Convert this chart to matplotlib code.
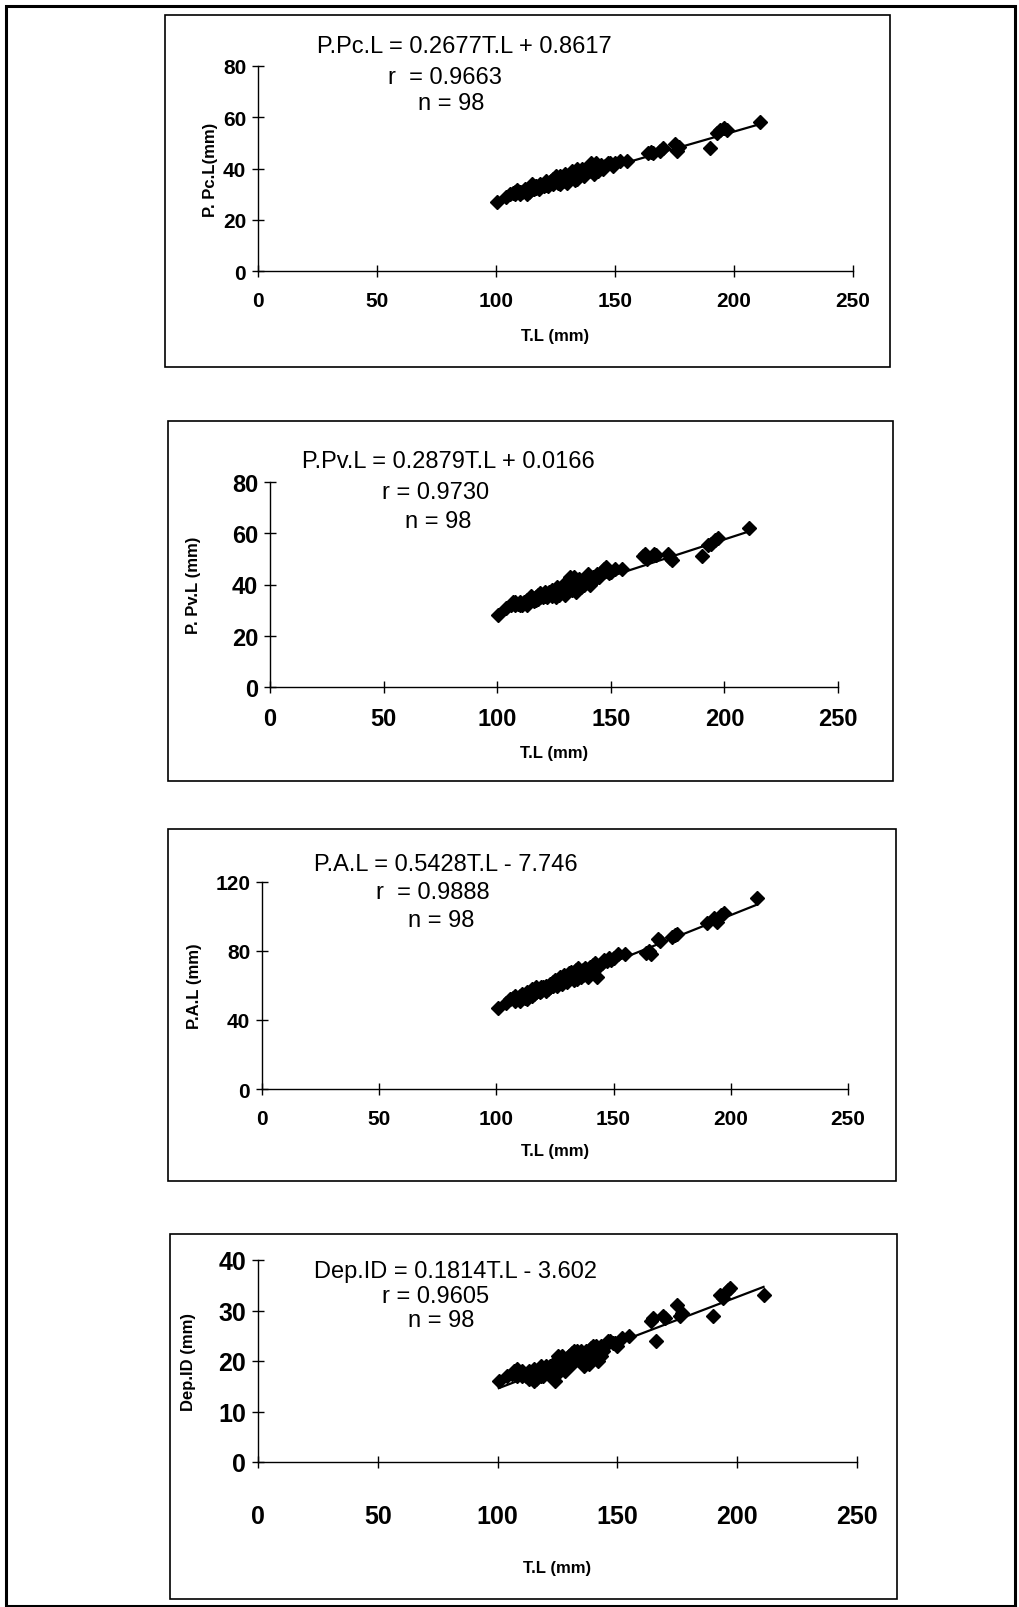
import matplotlib
matplotlib.use('Agg')
import matplotlib.pyplot as plt
from matplotlib.patches import Rectangle
import numpy as np

W, H = 1020, 1608

# total length of the fish (same 98 fish in every panel)
tl = [100.5, 104, 106, 107, 108, 108, 109, 110, 110, 111, 112, 113, 113, 114, 115, 115,
      116, 116, 117, 117, 118, 118, 118.5, 119, 119, 120, 120, 121, 121, 122, 122, 123, 123,
      124, 124, 125, 125, 126, 126, 126.5, 127, 127, 128, 128, 129, 129, 130, 130, 131, 131,
      132, 132, 133, 133, 134, 134, 134.5, 135, 135, 136, 136, 137, 137, 138, 138, 139, 139,
      140, 140, 141, 141, 142, 142, 143, 143, 144, 145, 146, 147, 148, 149, 150, 152, 155,
      164, 165, 166, 169, 170, 175, 176, 177, 190, 193, 194, 196, 197, 211]

ppcl = [27, 29, 30, 30.5, 31, 30, 31.5, 31, 30, 31, 32, 30, 31.5, 31, 34, 32,
        33, 32, 32.5, 33, 33, 32, 34, 33, 33.5, 33, 34, 33.5, 35, 34, 33, 34.5, 35,
        34, 36, 35, 37, 34.5, 35.5, 36, 34, 37, 36, 35, 38, 36, 37, 34.5, 38, 36,
        39, 37, 38, 35.5, 40, 36, 38, 39, 37, 40, 38, 39, 37, 40, 38.5, 41, 39,
        40, 42, 41, 38, 42, 40, 41, 39, 41.5, 40, 41, 42, 42, 41, 42, 43, 43,
        46, 46.5, 46, 47, 48, 49.5, 47, 48.5, 48, 54, 55, 56, 55, 58]

ppvl = [28, 31, 32, 33, 32, 33, 32.5, 32, 33, 32, 33, 32, 34, 33, 35.5, 34,
        34, 33.5, 35, 34, 36, 34.5, 35, 35, 36.5, 35, 36, 35.5, 37, 36, 35, 36.5, 37,
        35.5, 38, 36, 37.5, 35, 38, 39, 37, 36, 38, 37, 40, 38, 39, 36, 41, 38,
        43, 40, 42, 38, 43, 39, 37, 41, 39.5, 42, 40, 40.5, 39, 42, 40, 43, 41,
        42, 44, 42.5, 40, 43, 41.5, 43, 42, 44, 43, 45, 46, 47, 44.5, 45, 46, 46,
        51, 52, 50, 52, 51.5, 52, 50.5, 49.5, 51, 55.5, 56, 57.5, 58, 62]

pal = [47, 50, 52, 53, 51, 54, 52, 54, 51, 55, 53, 56, 52, 55, 58, 54,
       57, 55, 59, 56, 57, 58, 56, 59, 57, 58, 59, 57, 60, 59, 58, 61, 59,
       60, 62, 61, 63, 60, 62, 64, 62, 65, 63, 61, 66, 64, 65, 62, 67, 64,
       66, 68, 65, 63, 69, 66, 64, 70, 67, 68, 65, 69, 66, 67, 70, 68, 65,
       71, 69, 72, 68, 73, 70, 71, 65, 72, 73, 75, 74, 76, 75, 76, 78, 78,
       79, 80, 78, 87, 86, 88, 89, 90, 96, 99, 97, 101, 102, 111]

depid = [16, 17, 17.5, 18, 17, 18.5, 17.5, 17, 18, 17.5, 17, 16.5, 18, 17, 16, 18.5,
         17, 16.5, 18, 17.5, 19, 17, 18, 18.5, 17, 19, 18, 18.5, 17.5, 19, 18, 17, 19.5,
         16, 18.5, 21, 19, 20, 18, 19.5, 21, 19, 20, 18, 20.5, 19, 21, 20, 21.5, 19.5,
         22, 20, 21, 22, 20.5, 21.5, 20, 22, 21, 19, 21.5, 20, 22, 21, 19.5, 22.5, 21,
         23, 22, 23, 21.5, 22.5, 20, 23, 21, 22, 23, 24, 24, 23.5, 23.5, 23, 24.5, 25,
         28, 28.5, 24, 29, 28.5, 31, 29, 29.5, 29, 33, 32.5, 34, 34.5, 33]

ylabels = ['P. Pc.L(mm)', 'P. Pv.L (mm)', 'P.A.L (mm)', 'Dep.ID (mm)']
slopes = [0.2677, 0.2879, 0.5428, 0.1814]
intercepts = [0.8617, 0.0166, -7.746, -3.602]
eq_text = ['P.Pc.L = 0.2677T.L + 0.8617', 'P.Pv.L = 0.2879T.L + 0.0166',
           'P.A.L = 0.5428T.L - 7.746', 'Dep.ID = 0.1814T.L - 3.602']
r_text = ['r  = 0.9663', 'r = 0.9730', 'r  = 0.9888', 'r = 0.9605']
n_text = ['n = 98'] * 4
yticks = [[0, 20, 40, 60, 80], [0, 20, 40, 60, 80], [0, 40, 80, 120], [0, 10, 20, 30, 40]]
ydata = [ppcl, ppvl, pal, depid]

# layout in pixels (of the 1020x1608 page)
boxes = [(165, 16, 890, 368), (168, 422, 893, 782), (168, 830, 896, 1182), (170, 1235, 897, 1600)]
axpix = [(258, 67, 853, 272), (270, 483, 838, 688), (262, 883, 848, 1090), (258, 1261, 857, 1463)]
eq_pos = [(464, 47), (448, 462), (446, 865), (456, 1272)]
r_pos = [(445, 78), (436, 493), (433, 893), (436, 1297)]
n_pos = [(451, 104), (438, 522), (441, 921), (441, 1321)]
ylab_x = [218, 201, 202, 196]
xlab_y = [329, 746, 1144, 1561]
tick_size = [15, 17, 15, 18]
xpad = [10, 10, 10, 26]

plt.rcParams['font.family'] = ['Liberation Sans', 'DejaVu Sans']


def fx(x):
    return x / W


def fy(y):
    return 1 - y / H


fig = plt.figure(figsize=(W / 100, H / 100), dpi=100)
fig.patch.set_facecolor('white')

# outer frame
fig.add_artist(Rectangle((fx(6), fy(1607)), fx(1015) - fx(6), fy(7) - fy(1607),
                         transform=fig.transFigure, fill=False, lw=2.2, ec='black'))

for i in range(4):
    bx0, by0, bx1, by1 = boxes[i]
    fig.add_artist(Rectangle((fx(bx0), fy(by1)), fx(bx1) - fx(bx0), fy(by0) - fy(by1),
                             transform=fig.transFigure, fill=False, lw=1.2, ec='black'))

    x0, yt, x1, yb = axpix[i]
    ax = fig.add_axes([fx(x0), fy(yb), fx(x1) - fx(x0), fy(yt) - fy(yb)])
    ax.set_facecolor('none')

    x = np.array(tl)
    ax.plot(x, ydata[i], 'D', color='black', ms=7, clip_on=False)
    xl = np.array([min(tl), max(tl)])
    ax.plot(xl, slopes[i] * xl + intercepts[i], color='black', lw=1.6)

    ax.set_xlim(0, 250)
    ax.set_ylim(0, yticks[i][-1])
    ax.set_xticks([0, 50, 100, 150, 200, 250])
    ax.set_yticks(yticks[i])
    for s in ['top', 'right']:
        ax.spines[s].set_visible(False)
    for s in ['left', 'bottom']:
        ax.spines[s].set_linewidth(1.0)
    ax.tick_params(direction='inout', length=9, width=1.0, labelsize=tick_size[i])
    ax.tick_params(axis='x', pad=xpad[i])
    ax.tick_params(axis='y', pad=4)
    for lab in ax.get_xticklabels() + ax.get_yticklabels():
        lab.set_fontweight('bold')

    ax.set_ylabel(ylabels[i], fontsize=12, fontweight='bold')
    ax.yaxis.set_label_coords((ylab_x[i] - x0) / (x1 - x0), 0.5)
    ax.set_xlabel('T.L (mm)', fontsize=12, fontweight='bold')
    ax.xaxis.set_label_coords(0.5, (yb - xlab_y[i]) / (yb - yt))

    for txt, pos in [(eq_text[i], eq_pos[i]), (r_text[i], r_pos[i]), (n_text[i], n_pos[i])]:
        fig.text(fx(pos[0]), fy(pos[1]), txt, ha='center', va='center', fontsize=17)

fig.savefig('out.png', dpi=100)
